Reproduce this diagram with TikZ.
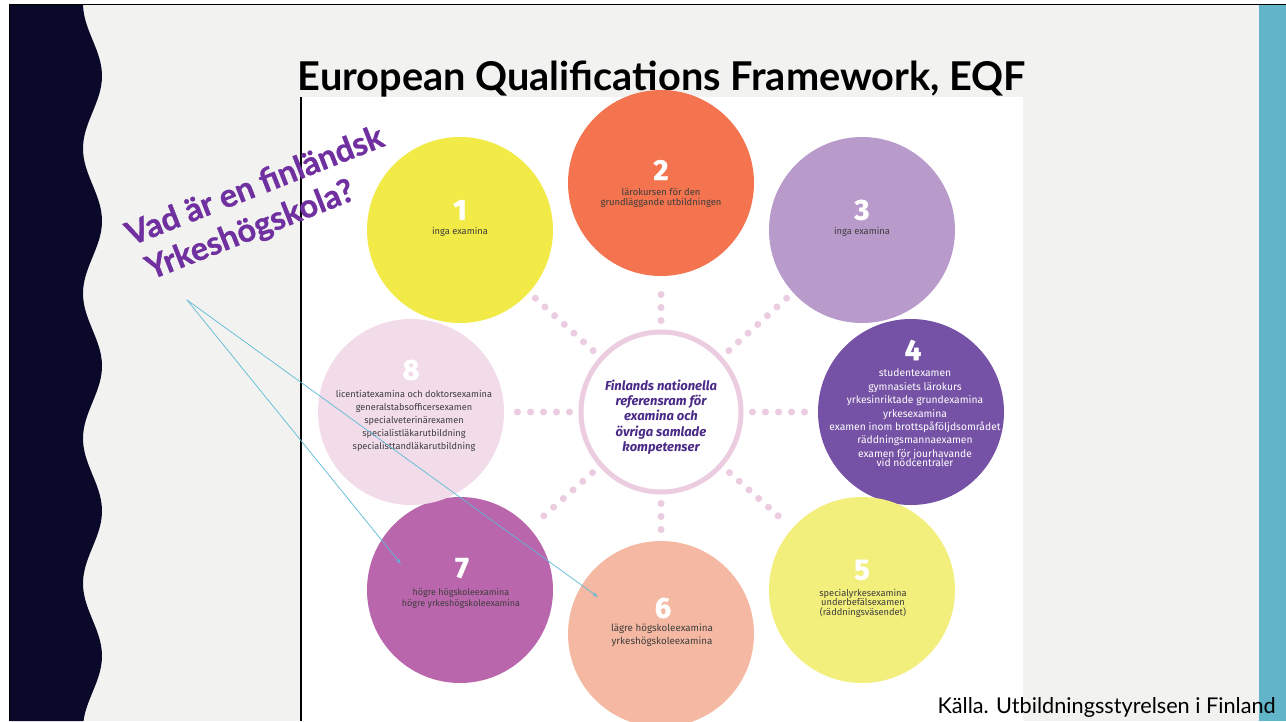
\documentclass[tikz,border=0pt]{standalone}
\usepackage{fontspec}
\setmainfont{Lato}
\newfontfamily\fira{Fira Sans}
\usetikzlibrary{arrows.meta,calc}
\definecolor{navy}{HTML}{0B0929}
\definecolor{slidebg}{HTML}{F2F2F0}
\definecolor{tealbar}{HTML}{62B4C8}
\definecolor{qpurple}{HTML}{7030A0}
\definecolor{cyanline}{HTML}{5CBAD8}
\definecolor{ring}{HTML}{EBCCE0}
\definecolor{ctrtxt}{HTML}{4B2A87}
\definecolor{yellowa}{HTML}{F2EB47}
\definecolor{orangeb}{HTML}{F3744E}
\definecolor{lavc}{HTML}{B89BCB}
\definecolor{purpled}{HTML}{7552A5}
\definecolor{yellowe}{HTML}{F3EF7C}
\definecolor{salmonf}{HTML}{F5B9A3}
\definecolor{magentag}{HTML}{BA66AC}
\definecolor{pinkh}{HTML}{F2DCEA}
\definecolor{txtdark}{HTML}{3D3D3D}

\begin{document}
\begin{tikzpicture}[x=1pt, y=-1pt,
  circ/.style={circle, fill=#1, minimum size=186pt, inner sep=0pt},
  num/.style={text=white, font=\fira\bfseries\fontsize{29}{29}\selectfont\addfontfeatures{FakeBold=1.5}, inner sep=0pt},
  lbl/.style={text=#1, align=center, font=\fira\fontsize{9.3}{11}\selectfont, inner sep=0pt},
  quest/.style={rotate=21.5, anchor=base west, text=qpurple, inner sep=0pt,
    font=\bfseries\fontsize{32.5}{32.5}\selectfont\addfontfeatures{FakeBold=1}},
  dots/.style={draw=ring, line width=7pt, line cap=round, dash pattern=on 0pt off 13pt, shorten <=9pt, shorten >=8pt},
  arr/.style={-{Stealth[length=6pt, width=3.5pt]}, draw=cyanline, line width=0.7pt}
]
  \useasboundingbox (0,0) rectangle (1286,721);
  % slide background
  \fill[white] (0,0) rectangle (1286,721);
  \fill[slidebg] (10,5) rectangle (1286,721);
  \fill[navy] (10,721) -- (10,5) -- plot[domain=5:721, samples=160] ({92.5+9.5*cos(2.4828*(\x-76))}, \x) -- cycle;
  \fill[tealbar] (1259,5) rectangle (1286,721);
  \draw[black, line width=1.4pt] (9.5,721) -- (9.5,4.5) -- (1286,4.5);
  % embedded picture
  \fill[white] (301,97) rectangle (1023,721);
  \draw[black, line width=1.2pt] (301,97) -- (301,721);

  \node[font=\bfseries\fontsize{39.7}{39.7}\selectfont, anchor=base] (title) at (662,90) {European Qualifications Framework, EQF};

  % circles
  \node[circ=yellowa]  (c1) at (460,230) {};
  \node[circ=orangeb]  (c2) at (661,183) {};
  \node[circ=lavc]     (c3) at (862,230) {};
  \node[circ=purpled]  (c4) at (911,412) {};
  \node[circ=yellowe]  (c5) at (862,590) {};
  \node[circ=salmonf]  (c6) at (661,634) {};
  \node[circ=magentag] (c7) at (460,590) {};
  \node[circ=pinkh]    (c8) at (411,412) {};
  \node[circle, draw=ring, line width=5pt, fill=white, minimum size=160pt, inner sep=0pt] (ctr) at (661,412) {};

  % dotted spokes
  \foreach \i in {1,...,8}
    \draw[dots] (ctr) -- (c\i);

  \node[align=center, text=ctrtxt, font=\fira\bfseries\itshape\fontsize{13}{15.2}\selectfont] (ctrtext) at (661,417)
    {Finlands nationella\\referensram för\\examina och\\övriga samlade\\kompetenser};

  % numbers and labels
  \node[num] (n1) at (460,210) {1};
  \node[lbl=txtdark] (t1) at (460,232) {inga examina};
  \node[num] (n2) at (661,170) {2};
  \node[lbl=txtdark, font=\fira\fontsize{9.4}{10.5}\selectfont] (t2) at (661,198) {lärokursen för den\\grundläggande utbildningen};
  \node[num] (n3) at (862,210) {3};
  \node[lbl=txtdark] (t3) at (862,232) {inga examina};
  \node[num] (n4) at (913,350) {4};
  \node[lbl=white, font=\fira\fontsize{10.3}{13.4}\selectfont] (t4) at (915,418)
    {studentexamen\\gymnasiets lärokurs\\yrkesinriktade grundexamina\\yrkesexamina\\examen inom brottspåföljdsområdet\\räddningsmannaexamen\\examen för jourhavande\\[-3.8pt]vid nödcentraler};
  \node[num] (n5) at (862,570) {5};
  \node[lbl=txtdark, font=\fira\fontsize{9.3}{9.6}\selectfont] (t5) at (863,603)
    {specialyrkesexamina\\underbefälsexamen\\(räddningsväsendet)};
  \node[num] (n6) at (663,608) {6};
  \node[lbl=txtdark, font=\fira\fontsize{9.8}{12.5}\selectfont] (t6) at (662,635) {lägre högskoleexamina\\yrkeshögskoleexamina};
  \node[num] (n7) at (462,568) {7};
  \node[lbl=txtdark, font=\fira\fontsize{9}{11}\selectfont] (t7) at (461,598) {högre högskoleexamina\\högre yrkeshögskoleexamina};
  \node[num] (n8) at (411,370) {8};
  \node[lbl=txtdark, font=\fira\fontsize{9.2}{13}\selectfont] (t8) at (414,421)
    {licentiatexamina och doktorsexamina\\generalstabsofficersexamen\\specialveterinärexamen\\specialistläkarutbildning\\specialisttandläkarutbildning};

  % question and pointers
  \node[quest] (quest1) at (131,246) {Vad är en finländsk};
  \node[quest] (quest2) at (151,280) {Yrkeshögskola?};
  \coordinate (q)  at (187,300);
  \coordinate (a7) at (401,564);
  \coordinate (a6) at (598,597);
  \draw[arr] (q) -- (a7);
  \draw[arr] (q) -- (a6);

  \node[anchor=base east, font=\fontsize{21.7}{21.7}\selectfont, inner sep=0pt] (src) at (1276,713) {Källa. Utbildningsstyrelsen i Finland};
\end{tikzpicture}
\end{document}
